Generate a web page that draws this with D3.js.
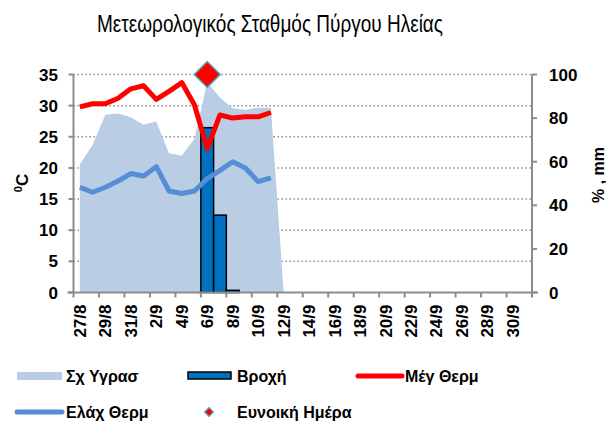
<!doctype html>
<html>
<head>
    <meta charset="utf-8">
    <style>
        body {
            margin: 0;
            background: #fff;
            font-family: "Liberation Sans", Arial, sans-serif;
        }
        .tick-label {
            font-weight: bold;
            font-size: 17px;
            fill: #000;
        }
        .legend text {
            font-weight: bold;
            font-size: 16px;
        }
    </style>
    <script src="https://d3js.org/d3.v7.min.js"></script>
</head>
<body>
<div id="my_chart"></div>
<script>
    // categories (one per day) and series
    var days = ["27/8","28/8","29/8","30/8","31/8","1/9","2/9","3/9","4/9","5/9",
                "6/9","7/9","8/9","9/9","10/9","11/9","12/9","13/9","14/9","15/9",
                "16/9","17/9","18/9","19/9","20/9","21/9","22/9","23/9","24/9","25/9",
                "26/9","27/9","28/9","29/9","30/9","1/10"];
    var humidity = [58.8, 67.7, 81.5, 82.1, 80.4, 76.9, 78.4, 63.9, 62.8, 70.5,
                    96.5, 89.5, 84.5, 83.8, 84.8, 84.8, 0];
    var rain = [0, 0, 0, 0, 0, 0, 0, 0, 0, 0, 75.6, 35.5, 1, 0, 0, 0];
    var tMax = [29.8, 30.3, 30.3, 31.2, 32.7, 33.2, 31.0, 32.3, 33.7, 30.1,
                23.1, 28.5, 28.0, 28.2, 28.2, 28.9];
    var tMin = [16.9, 16.1, 16.9, 17.9, 19.1, 18.7, 20.2, 16.3, 15.9, 16.3,
                18.3, 19.6, 21.0, 20.0, 17.8, 18.4];
    var goodDays = ["6/9"];
    var goodValue = [100];
    var leftTicks = [0, 5, 10, 15, 20, 25, 30, 35];
    var rightTicks = [0, 20, 40, 60, 80, 100];

    var W = 606, H = 421;
    var plot = {left: 73.5, right: 532, top: 74.5, bottom: 292.5};

    var svg = d3.select("#my_chart")
        .append("svg")
        .attr("width", W)
        .attr("height", H);

    var x = d3.scaleBand()
        .domain(days)
        .range([plot.left, plot.right])
        .padding(0);
    var yL = d3.scaleLinear().domain([0, 35]).range([plot.bottom, plot.top]);
    var yR = d3.scaleLinear().domain([0, 100]).range([plot.bottom, plot.top]);
    var cx = function (i) { return x(days[i]) + x.bandwidth() / 2; };

    // title
    svg.append("text")
        .attr("x", 270)
        .attr("y", 32)
        .attr("text-anchor", "middle")
        .attr("textLength", 346)
        .attr("lengthAdjust", "spacingAndGlyphs")
        .style("font-size", "24px")
        .text("Μετεωρολογικός Σταθμός Πύργου Ηλείας");

    // gridlines (dotted)
    svg.append("g")
        .selectAll("line")
        .data(leftTicks.filter(function (d) { return d > 0; }))
        .enter()
        .append("line")
        .attr("x1", plot.left)
        .attr("x2", plot.right)
        .attr("y1", function (d) { return yL(d); })
        .attr("y2", function (d) { return yL(d); })
        .attr("stroke", "#8c8c8c")
        .attr("stroke-width", 1.5)
        .attr("stroke-dasharray", "1.5,2.5");

    // humidity area
    var area = d3.area()
        .x(function (d, i) { return cx(i); })
        .y0(yR(0))
        .y1(function (d) { return yR(d); });
    svg.append("path")
        .datum(humidity)
        .attr("d", area)
        .attr("fill", "#b9cde5");

    // rain bars
    svg.append("g")
        .selectAll("rect")
        .data(rain.map(function (v, i) { return {day: days[i], v: v}; })
                  .filter(function (d) { return d.v > 0; }))
        .enter()
        .append("rect")
        .attr("x", function (d) { return x(d.day); })
        .attr("width", x.bandwidth())
        .attr("y", function (d) { return yR(d.v); })
        .attr("height", function (d) { return yR(0) - yR(d.v); })
        .attr("fill", "#0070c0")
        .attr("stroke", "#000")
        .attr("stroke-width", 1.5);

    // temperature lines
    var line = d3.line()
        .x(function (d, i) { return cx(i); })
        .y(function (d) { return yL(d); });
    svg.append("path")
        .datum(tMax)
        .attr("d", line)
        .attr("fill", "none")
        .attr("stroke", "#ff0000")
        .attr("stroke-width", 5)
        .attr("stroke-linejoin", "round");
    svg.append("path")
        .datum(tMin)
        .attr("d", line)
        .attr("fill", "none")
        .attr("stroke", "#558ed5")
        .attr("stroke-width", 5)
        .attr("stroke-linejoin", "round");

    // axes
    var axisColor = "#8c8c8c";
    var gx = svg.append("g")
        .attr("transform", "translate(0," + plot.bottom + ")");
    gx.append("line")
        .attr("x1", plot.left - 6).attr("x2", plot.right + 6)
        .attr("stroke", axisColor).attr("stroke-width", 2);
    var xTickPos = days.filter(function (d, i) { return i % 2 === 0; })
        .map(function (d) { return x(d); }).concat([plot.right]);
    gx.selectAll(".xt")
        .data(xTickPos)
        .enter()
        .append("line")
        .attr("x1", function (d) { return d; })
        .attr("x2", function (d) { return d; })
        .attr("y1", 0).attr("y2", 5)
        .attr("stroke", axisColor).attr("stroke-width", 2);
    gx.selectAll(".tick-label")
        .data(days.filter(function (d, i) { return i % 2 === 0; }))
        .enter()
        .append("text")
        .attr("class", "tick-label")
        .attr("transform", function (d) {
            return "translate(" + (x(d) + x.bandwidth() / 2 + 6) + ",12) rotate(-90)";
        })
        .attr("text-anchor", "end")
        .text(function (d) { return d; });

    var gl = svg.append("g");
    gl.append("line")
        .attr("x1", plot.left).attr("x2", plot.left)
        .attr("y1", plot.top).attr("y2", plot.bottom)
        .attr("stroke", axisColor).attr("stroke-width", 2);
    gl.selectAll(".lt")
        .data(leftTicks)
        .enter()
        .append("line")
        .attr("x1", plot.left - 5).attr("x2", plot.left)
        .attr("y1", function (d) { return yL(d); })
        .attr("y2", function (d) { return yL(d); })
        .attr("stroke", axisColor).attr("stroke-width", 2);
    gl.selectAll(".tick-label")
        .data(leftTicks)
        .enter()
        .append("text")
        .attr("class", "tick-label")
        .attr("x", 58)
        .attr("y", function (d) { return yL(d) + 6; })
        .attr("text-anchor", "end")
        .text(function (d) { return d; });

    var gr = svg.append("g");
    gr.append("line")
        .attr("x1", plot.right).attr("x2", plot.right)
        .attr("y1", plot.top).attr("y2", plot.bottom)
        .attr("stroke", axisColor).attr("stroke-width", 2);
    gr.selectAll(".rt")
        .data(rightTicks)
        .enter()
        .append("line")
        .attr("x1", plot.right).attr("x2", plot.right + 5)
        .attr("y1", function (d) { return yR(d); })
        .attr("y2", function (d) { return yR(d); })
        .attr("stroke", axisColor).attr("stroke-width", 2);
    gr.selectAll(".tick-label")
        .data(rightTicks)
        .enter()
        .append("text")
        .attr("class", "tick-label")
        .attr("x", 549)
        .attr("y", function (d) { return yR(d) + 6; })
        .text(function (d) { return d; });

    // axis titles
    var ylab = svg.append("text")
        .attr("transform", "translate(28,183) rotate(-90)")
        .attr("text-anchor", "middle")
        .style("font-weight", "bold")
        .style("font-size", "17px");
    ylab.append("tspan").attr("dy", "-6").style("font-size", "11px").text("0");
    ylab.append("tspan").attr("dy", "6").text("C");

    svg.append("text")
        .attr("transform", "translate(604,175) rotate(-90)")
        .attr("text-anchor", "middle")
        .style("font-weight", "bold")
        .style("font-size", "16px")
        .text("% , mm");

    // favourable day marker
    var diamond = d3.symbol().type(d3.symbolSquare);
    svg.append("g")
        .selectAll("path")
        .data(goodDays)
        .enter()
        .append("path")
        .attr("d", diamond.size(340))
        .attr("transform", function (d, i) {
            return "translate(" + (x(d) + x.bandwidth() / 2) + "," + yR(goodValue[i]) + ") rotate(45)";
        })
        .attr("fill", "#ff0000")
        .attr("stroke", "#4bacc6")
        .attr("stroke-width", 1.5);

    // legend
    var lg = svg.append("g").attr("class", "legend");
    lg.append("rect").attr("x", 17).attr("y", 372).attr("width", 45).attr("height", 8)
        .attr("fill", "#b9cde5");
    lg.append("text").attr("x", 66).attr("y", 382).text("Σχ Υγρασ");

    lg.append("rect").attr("x", 188).attr("y", 372).attr("width", 43).attr("height", 7)
        .attr("fill", "#0070c0").attr("stroke", "#000").attr("stroke-width", 1.5);
    lg.append("text").attr("x", 237).attr("y", 382).text("Βροχή");

    lg.append("line").attr("x1", 358).attr("x2", 402).attr("y1", 376).attr("y2", 376)
        .attr("stroke", "#ff0000").attr("stroke-width", 5).attr("stroke-linecap", "round");
    lg.append("text").attr("x", 405).attr("y", 382).text("Μέγ Θερμ");

    lg.append("line").attr("x1", 17).attr("x2", 62).attr("y1", 412).attr("y2", 412)
        .attr("stroke", "#558ed5").attr("stroke-width", 5).attr("stroke-linecap", "round");
    lg.append("text").attr("x", 66).attr("y", 418).text("Ελάχ Θερμ");

    lg.append("path").attr("d", d3.symbol().type(d3.symbolSquare).size(40)())
        .attr("transform", "translate(209,412) rotate(45)")
        .attr("fill", "#ff0000").attr("stroke", "#4bacc6").attr("stroke-width", 1.2);
    lg.append("text").attr("x", 237).attr("y", 418).text("Ευνοική Ημέρα");
</script>
</body>
</html>
